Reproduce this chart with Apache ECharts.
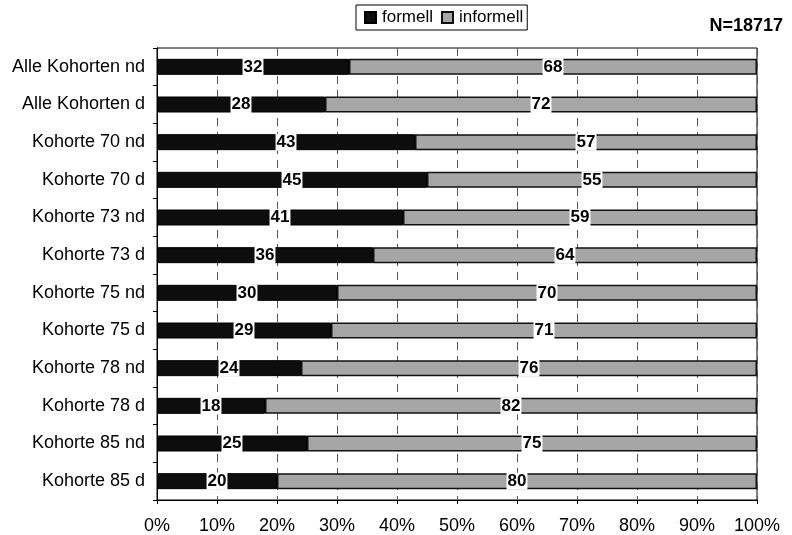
<!DOCTYPE html>
<html><head><meta charset="utf-8">
<script src="https://cdn.jsdelivr.net/npm/echarts@6/dist/echarts.min.js"></script>
<style>html,body{margin:0;padding:0;background:#fff}#c{width:792px;height:535px}</style>
</head><body><div id="c"></div>
<script>
const categories = ["Alle Kohorten nd","Alle Kohorten d","Kohorte 70 nd","Kohorte 70 d","Kohorte 73 nd","Kohorte 73 d","Kohorte 75 nd","Kohorte 75 d","Kohorte 78 nd","Kohorte 78 d","Kohorte 85 nd","Kohorte 85 d"];
const formell = [32,28,43,45,41,36,30,29,24,18,25,20];
const informell = [68,72,57,55,59,64,70,71,76,82,75,80];
const xTicks = [0,10,20,30,40,50,60,70,80,90,100];

const chart = echarts.init(document.getElementById('c'));
const FF = 'Liberation Sans, Arial, sans-serif';
const lbl = {show:true, position:'inside', color:'#000', fontFamily:FF, fontWeight:'bold', fontSize:17, backgroundColor:'#fff', padding:[0,1,0,1]};
chart.setOption({
  animation:false,
  textStyle:{fontFamily:FF},
  legend:{top:5, left:356, itemWidth:11, itemHeight:11, itemGap:8, borderColor:'#000', borderWidth:1, padding:[4,4,4,8],
    icon:'rect', textStyle:{fontSize:17,color:'#000', padding:[0,0,0,1]}, data:['formell','informell']},
  title:{text:'N=18717', right:4, top:12, textStyle:{fontSize:18, fontWeight:'bold', color:'#000'}},
  grid:{left:157, right:35, top:48, bottom:35, show:true, borderColor:'#000', borderWidth:1},
  xAxis:{type:'value', min:0, max:100, interval:10,
    axisLabel:{formatter:v=>v+'%', fontSize:18, color:'#000', margin:17},
    axisLine:{show:true, lineStyle:{color:'#000'}}, axisTick:{show:true, length:4, lineStyle:{color:'#000'}},
    splitLine:{show:true, lineStyle:{color:'#555', type:[8,6], width:1}}},
  yAxis:{type:'category', inverse:true, data:categories,
    axisLabel:{fontSize:18, color:'#000', margin:12},
    axisLine:{show:true, lineStyle:{color:'#000'}}, axisTick:{show:true, length:4, lineStyle:{color:'#000'}}},
  series:[
    {name:'formell', type:'bar', stack:'a', data:formell, barWidth:16,
      itemStyle:{color:'#0d0d0d', borderColor:'#000', borderWidth:1}, label:lbl},
    {name:'informell', type:'bar', stack:'a', data:informell, barWidth:16,
      itemStyle:{color:'#a6a6a6', borderColor:'#111', borderWidth:1.5}, label:lbl}
  ]
});
</script></body></html>
